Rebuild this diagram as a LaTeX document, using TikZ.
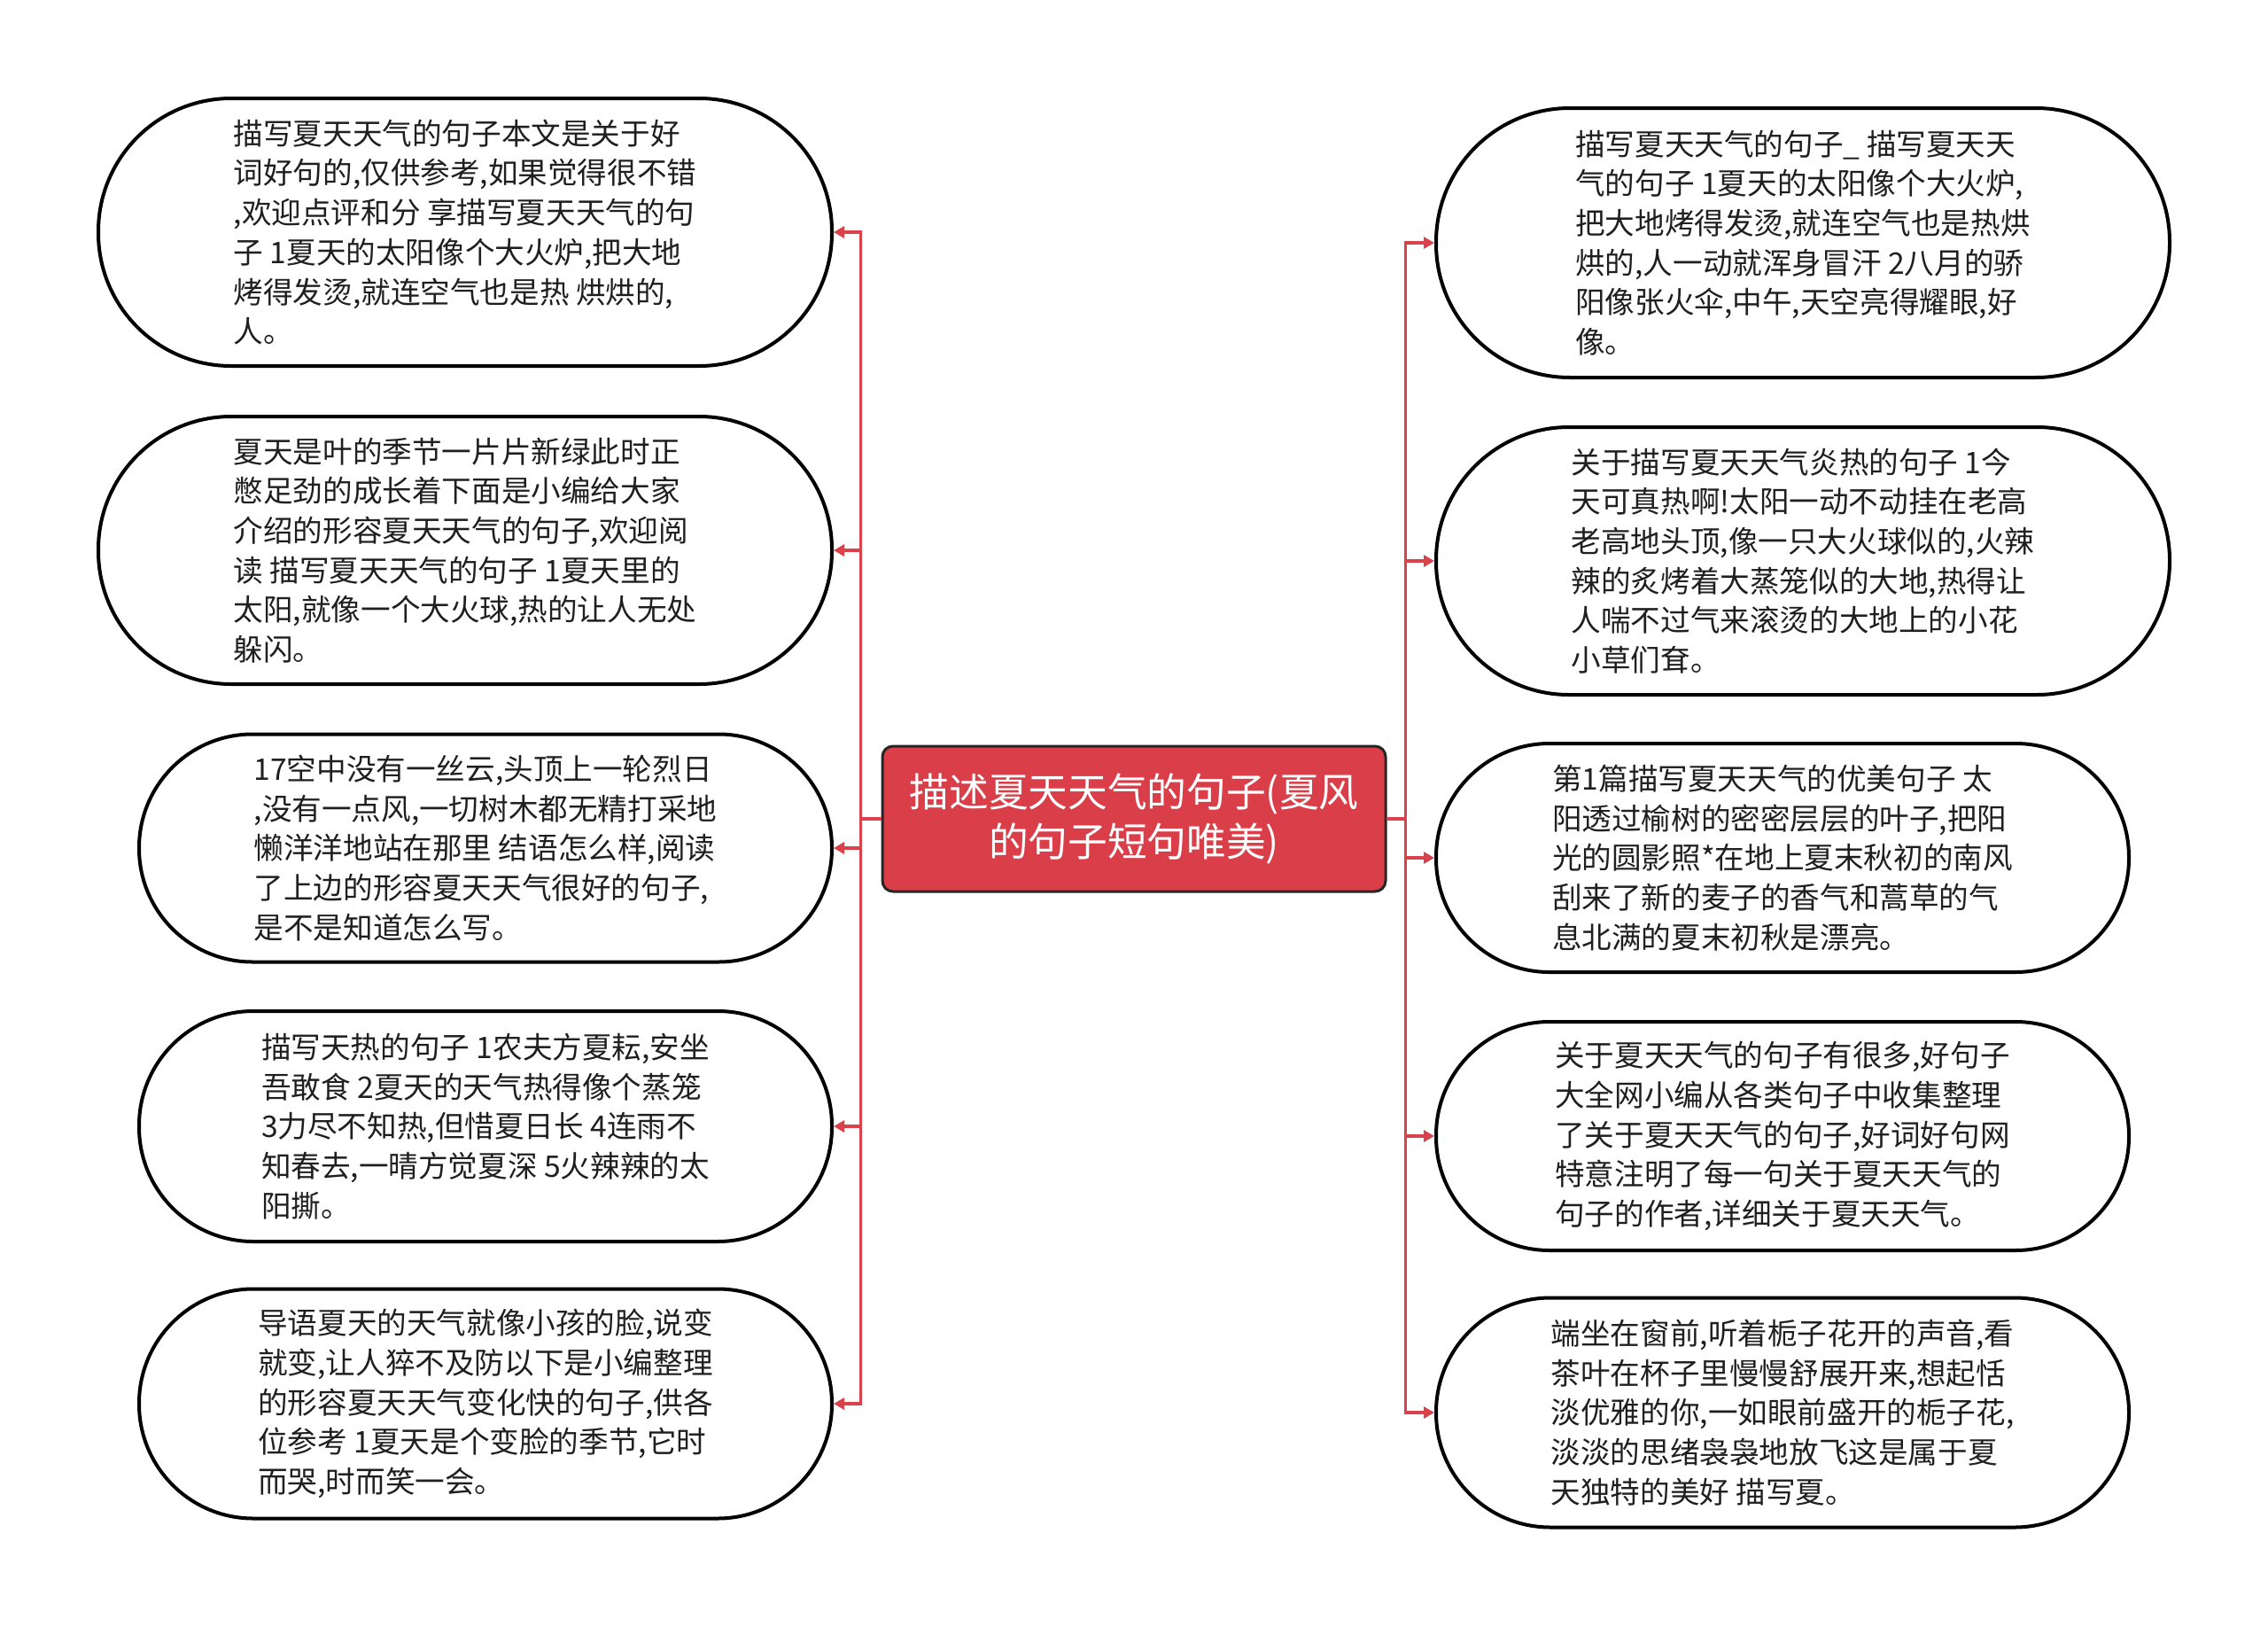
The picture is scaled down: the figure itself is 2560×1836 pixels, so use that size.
\documentclass[tikz,border=0pt]{standalone}
\usepackage{fontspec}
\setmainfont{Noto Sans CJK SC}
\usetikzlibrary{arrows.meta}
\definecolor{linkred}{RGB}{217,65,75}
\definecolor{rootred}{RGB}{218,62,72}
\tikzset{
  leaf/.style n args={3}{draw=black, line width=4pt, fill=white, rounded corners=#3,
    minimum width=#1, minimum height=#2, align=left, inner sep=0pt,
    font=\fontsize{33.6pt}{44.7pt}\selectfont, text=black!88},
  conn/.style={draw=linkred, line width=3.5pt, -{Triangle[length=12pt,width=13pt]}},
  rootbox/.style={draw=black!85, line width=3pt, fill=rootred, rounded corners=12pt,
    minimum width=568pt, minimum height=164pt, text=white, align=center, inner sep=0pt,
    font=\fontsize{44.7pt}{55.5pt}\selectfont},
}
\begin{document}
\begin{tikzpicture}[x=1pt,y=-1pt]
\useasboundingbox (0,0) rectangle (2560,1836);
\fill[white] (0,0) rectangle (2560,1836);

\node[rootbox] (root) at (1280,924) {描述夏天天气的句子(夏风\\的句子短句唯美)};

\node[leaf={828pt}{302pt}{150pt}] (L1) at (525,262) {描写夏天天气的句子本文是关于好\\词好句的,仅供参考,如果觉得很不错\\,欢迎点评和分 享描写夏天天气的句\\子 1夏天的太阳像个大火炉,把大地\\烤得发烫,就连空气也是热 烘烘的,\\人。};
\node[leaf={828pt}{302pt}{150pt}] (L2) at (525,621) {夏天是叶的季节一片片新绿此时正\\憋足劲的成长着下面是小编给大家\\介绍的形容夏天天气的句子,欢迎阅\\读 描写夏天天气的句子 1夏天里的\\太阳,就像一个大火球,热的让人无处\\躲闪。};
\node[leaf={782pt}{257pt}{128pt}] (L3) at (548,957) {17空中没有一丝云,头顶上一轮烈日\\,没有一点风,一切树木都无精打采地\\懒洋洋地站在那里 结语怎么样,阅读\\了上边的形容夏天天气很好的句子,\\是不是知道怎么写。};
\node[leaf={782pt}{260pt}{129pt}] (L4) at (548,1271) {描写天热的句子 1农夫方夏耘,安坐\\吾敢食 2夏天的天气热得像个蒸笼\\3力尽不知热,但惜夏日长 4连雨不\\知春去,一晴方觉夏深 5火辣辣的太\\阳撕。};
\node[leaf={782pt}{259pt}{129pt}] (L5) at (548,1584) {导语夏天的天气就像小孩的脸,说变\\就变,让人猝不及防以下是小编整理\\的形容夏天天气变化快的句子,供各\\位参考 1夏天是个变脸的季节,它时\\而哭,时而笑一会。};

\node[leaf={828pt}{304pt}{151pt}] (R1) at (2035,274) {描写夏天天气的句子\_ 描写夏天天\\气的句子 1夏天的太阳像个大火炉,\\把大地烤得发烫,就连空气也是热烘\\烘的,人一动就浑身冒汗 2八月的骄\\阳像张火伞,中午,天空亮得耀眼,好\\像。};
\node[leaf={828pt}{302pt}{150pt}] (R2) at (2035,633) {关于描写夏天天气炎热的句子 1今\\天可真热啊!太阳一动不动挂在老高\\老高地头顶,像一只大火球似的,火辣\\辣的炙烤着大蒸笼似的大地,热得让\\人喘不过气来滚烫的大地上的小花\\小草们耷。};
\node[leaf={782pt}{258pt}{128pt}] (R3) at (2012,968) {第1篇描写夏天天气的优美句子 太\\阳透过榆树的密密层层的叶子,把阳\\光的圆影照*在地上夏末秋初的南风\\刮来了新的麦子的香气和蒿草的气\\息北满的夏末初秋是漂亮。};
\node[leaf={782pt}{258pt}{128pt}] (R4) at (2012,1282) {关于夏天天气的句子有很多,好句子\\大全网小编从各类句子中收集整理\\了关于夏天天气的句子,好词好句网\\特意注明了每一句关于夏天天气的\\句子的作者,详细关于夏天天气。};
\node[leaf={782pt}{259pt}{129pt}] (R5) at (2012,1594) {端坐在窗前,听着栀子花开的声音,看\\茶叶在杯子里慢慢舒展开来,想起恬\\淡优雅的你,一如眼前盛开的栀子花,\\淡淡的思绪袅袅地放飞这是属于夏\\天独特的美好 描写夏。};

\foreach \n in {L1,L2,L3,L4,L5}
  \draw[conn] (root.west) -- ++(-23,0) |- (\n.east);
\foreach \n in {R1,R2,R3,R4,R5}
  \draw[conn] (root.east) -- ++(21,0) |- (\n.west);
\end{tikzpicture}
\end{document}
